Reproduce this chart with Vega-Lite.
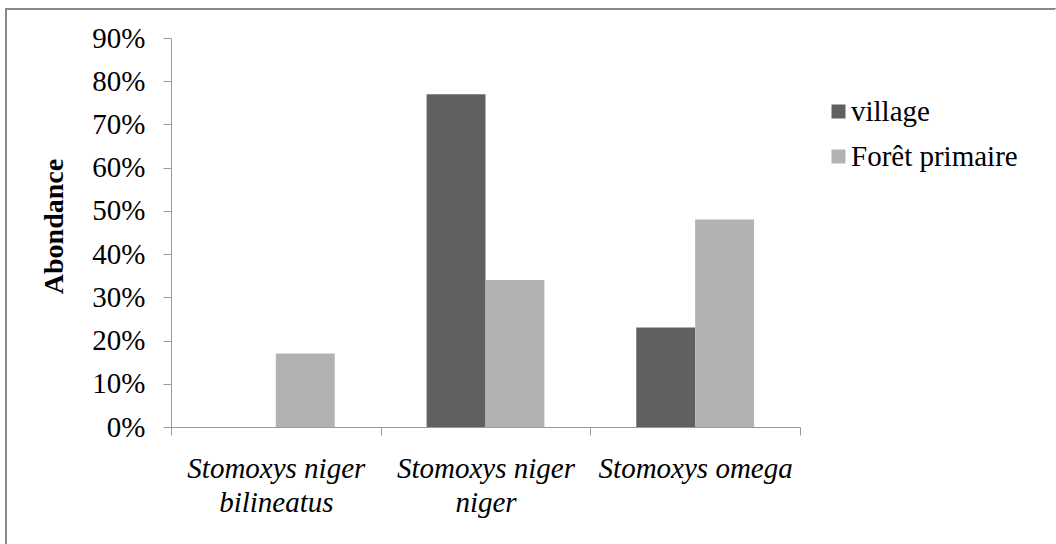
{
  "$schema": "https://vega.github.io/schema/vega-lite/v6.json",
  "width": 1050,
  "height": 535,
  "autosize": {"type": "none"},
  "padding": {"left": 6, "top": 9, "right": 0, "bottom": 0},
  "background": "white",
  "view": {
    "stroke": {
      "gradient": "linear", "x1": 0, "y1": 0, "x2": 1, "y2": 1,
      "stops": [
        {"offset": 0, "color": "#888888"},
        {"offset": 0.5, "color": "#888888"},
        {"offset": 0.5, "color": "#ffffff"},
        {"offset": 1, "color": "#ffffff"}
      ]
    },
    "strokeWidth": 2
  },
  "config": {"font": "Liberation Serif"},
  "data": {
    "values": [
      {"species": "Stomoxys niger bilineatus", "site": "village", "value": 0},
      {"species": "Stomoxys niger bilineatus", "site": "Forêt primaire", "value": 0.17},
      {"species": "Stomoxys niger niger", "site": "village", "value": 0.77},
      {"species": "Stomoxys niger niger", "site": "Forêt primaire", "value": 0.34},
      {"species": "Stomoxys omega", "site": "village", "value": 0.23},
      {"species": "Stomoxys omega", "site": "Forêt primaire", "value": 0.48}
    ]
  },
  "mark": {"type": "bar"},
  "encoding": {
    "x": {
      "field": "species",
      "type": "nominal",
      "sort": null,
      "scale": {"range": [165, 794], "paddingInner": 0, "paddingOuter": 0},
      "axis": {
        "orient": "bottom",
        "offset": -117,
        "title": null,
        "tickBand": "extent",
        "tickSize": 8,
        "domainColor": "#9a9a9a",
        "tickColor": "#9a9a9a",
        "labelAngle": 0,
        "labelFont": "Liberation Serif",
        "labelFontSize": 29,
        "labelFontStyle": "italic",
        "labelColor": "black",
        "labelPadding": 19,
        "labelLineHeight": 34,
        "labelLimit": 0,
        "labelExpr": "datum.label == '' || datum.label == null ? '' : (datum.label == 'Stomoxys omega' ? datum.label : ['Stomoxys niger', substring(datum.label, 15)])"
      }
    },
    "xOffset": {
      "field": "site",
      "type": "nominal",
      "sort": ["village", "Forêt primaire"],
      "scale": {"paddingInner": 0, "paddingOuter": 0.78}
    },
    "y": {
      "field": "value",
      "type": "quantitative",
      "scale": {"domain": [0, 0.9], "range": [418, 29], "nice": false, "zero": true},
      "axis": {
        "orient": "left",
        "offset": -165,
        "values": [0, 0.1, 0.2, 0.3, 0.4, 0.5, 0.6, 0.7, 0.8, 0.9],
        "format": ".0%",
        "grid": false,
        "tickSize": 8,
        "domainColor": "#9a9a9a",
        "tickColor": "#9a9a9a",
        "labelFont": "Liberation Serif",
        "labelFontSize": 29,
        "labelColor": "black",
        "labelPadding": 18,
        "title": "Abondance",
        "titleFont": "Liberation Serif",
        "titleFontSize": 28,
        "titleFontWeight": "bold",
        "titleColor": "black",
        "titlePadding": 23,
        "titleY": 217
      }
    },
    "color": {
      "field": "site",
      "type": "nominal",
      "scale": {"domain": ["village", "Forêt primaire"], "range": ["#606060", "#b2b2b2"]},
      "legend": {
        "orient": "none",
        "legendX": 818,
        "legendY": 88,
        "title": null,
        "symbolType": "square",
        "symbolSize": 196,
        "symbolStrokeWidth": 0,
        "symbolOpacity": 1,
        "labelFont": "Liberation Serif",
        "labelFontSize": 29,
        "labelColor": "black",
        "labelOffset": -2,
        "rowPadding": 15,
        "labelLimit": 0
      }
    }
  }
}
